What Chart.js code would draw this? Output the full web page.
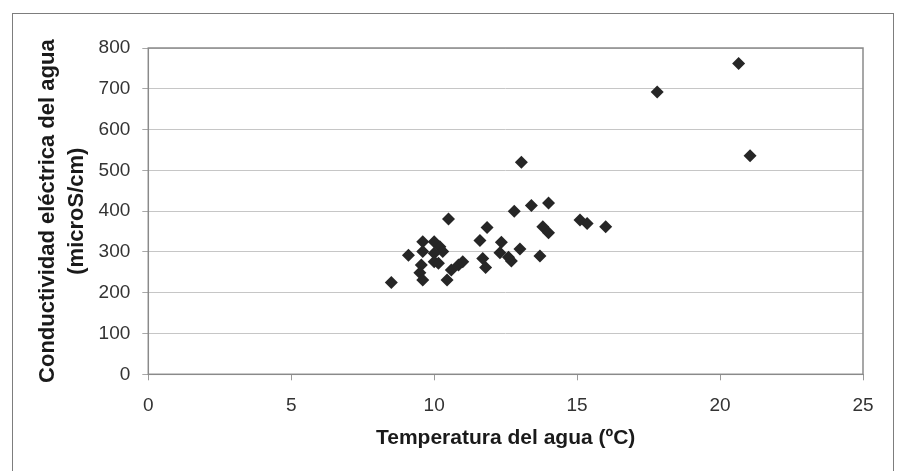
<!DOCTYPE html>
<html>
<head>
<meta charset='utf-8'>
<script src='https://cdn.jsdelivr.net/npm/chart.js@4/dist/chart.umd.min.js'></script>
<style>
	html, body { margin:0; padding:0; background:#fff; }
	.wrap { position:relative; width:899px; height:471px; overflow:hidden; }
	.frame { position:absolute; left:12px; top:13px; width:880px; height:470px; border:1px solid #7d7d7d; }
	canvas { position:absolute; left:0; top:0; }
</style>
</head>
<body>
<div class='wrap'>
	<div class='frame'></div>
	<canvas id='graph' width='899' height='471'></canvas>
</div>
<script>

const temperatura = [
	8.5, 9.1, 9.6, 9.6, 9.55, 9.5, 9.6, 10.0, 10.2, 10.3,
	10.0, 10.0, 10.15, 10.45, 10.5, 10.6, 10.85, 11.0, 11.6, 11.85,
	11.7, 11.8, 12.35, 12.3, 12.7, 12.6, 13.0, 13.7, 12.8, 13.4,
	14.0, 13.8, 14.0, 13.05, 15.1, 15.35, 16.0, 17.8, 20.65, 21.05
]
const conductividad = [
	225, 292, 325, 301, 268, 249, 231, 325, 313, 301,
	297, 276, 272, 231, 381, 256, 268, 276, 328, 360,
	284, 262, 324, 298, 278, 287, 307, 290, 400, 414,
	420, 362, 347, 520, 378, 370, 362, 692, 762, 536
]
const xTicks = [0, 5, 10, 15, 20, 25]
const yTicks = [0, 100, 200, 300, 400, 500, 600, 700, 800]

const points = temperatura.map((t, i) => ({ x:t, y:conductividad[i] }))

const plotBorder = {
	id:'plotBorder',
	afterDatasetsDraw(chart){
		const { ctx, chartArea } = chart
		ctx.save()
		ctx.strokeStyle = '#8a8a8a'
		ctx.lineWidth = 1.5
		ctx.strokeRect(chartArea.left, chartArea.top, chartArea.right - chartArea.left, chartArea.bottom - chartArea.top)
		ctx.restore()
	}
}

const tickFont = { family:'"Liberation Sans", Arial, sans-serif', size:19 }

new Chart(document.getElementById('graph'), {
	type:'scatter',
	data:{
		datasets:[
			{
				label:'Conductividad',
				data:points,
				pointStyle:'rectRot',
				pointRadius:6.5,
				pointHoverRadius:6.5,
				backgroundColor:'#262626',
				borderColor:'#262626',
				borderWidth:0
			}
		]
	},
	options:{
		responsive:false,
		animation:false,
		layout:{ padding:{ left:0, right:36, top:48, bottom:0 } },
		plugins:{
			legend:{ display:false },
			tooltip:{ enabled:false }
		},
		scales:{
			x:{
				type:'linear',
				min:xTicks[0],
				max:xTicks[xTicks.length - 1],
				afterBuildTicks(scale){ scale.ticks = xTicks.map(v => ({ value:v })) },
				afterFit(scale){ scale.height = 96.7 },
				grid:{ drawOnChartArea:false, drawTicks:true, tickLength:6, tickColor:'#9a9a9a' },
				border:{ display:false },
				ticks:{ color:'#333', font:tickFont, padding:14, maxRotation:0 },
				title:{
					display:true,
					text:'Temperatura del agua (ºC)',
					color:'#1a1a1a',
					font:{ family:'"Liberation Sans", Arial, sans-serif', size:21, weight:'bold' },
					padding:{ top:0, bottom:20 }
				}
			},
			y:{
				type:'linear',
				min:yTicks[0],
				max:yTicks[yTicks.length - 1],
				afterBuildTicks(scale){ scale.ticks = yTicks.map(v => ({ value:v })) },
				afterFit(scale){ scale.width = 148.3 },
				grid:{ color:'#c6c6c6', lineWidth:1, tickLength:6, tickColor:'#a8a8a8' },
				border:{ display:false },
				ticks:{ color:'#333', font:tickFont, padding:12 },
				title:{
					display:true,
					text:['Conductividad eléctrica del agua', '(microS/cm)'],
					color:'#1a1a1a',
					font:{ family:'"Liberation Sans", Arial, sans-serif', size:22, weight:'bold', lineHeight:1.32 },
					padding:{ top:33.5, bottom:0 }
				}
			}
		}
	},
	plugins:[plotBorder]
})

</script>
</body>
</html>
